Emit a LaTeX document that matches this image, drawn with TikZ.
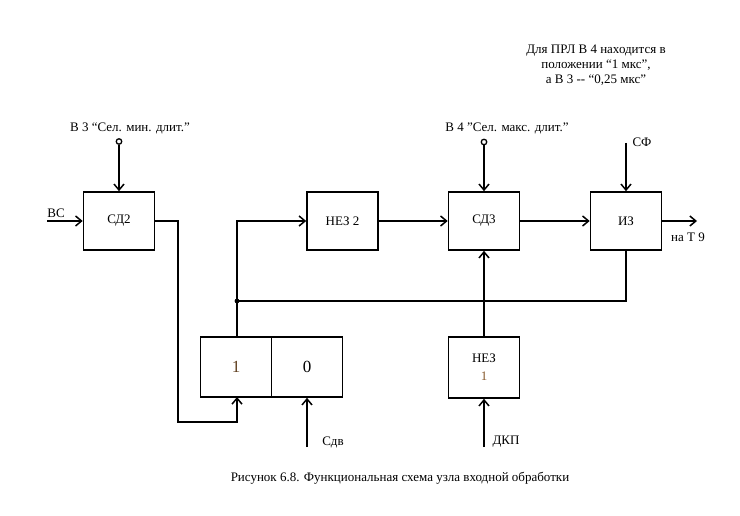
\documentclass[tikz,border=0pt]{standalone}
\usepackage{fontspec}
\setmainfont{Liberation Serif}
\usetikzlibrary{arrows.meta}
\begin{document}
\begin{tikzpicture}[x=1pt,y=-1pt,
  blk/.style={draw,line width=1.6pt,minimum width=71pt,minimum height=58pt,inner sep=0pt,font=\fontsize{13}{15}\selectfont},
  cell/.style={draw,line width=1.6pt,minimum width=71pt,minimum height=60pt,inner sep=0pt,font=\fontsize{17}{19}\selectfont},
  conn/.style={line width=1.6pt},
  arr/.style={conn,-{Straight Barb[length=6pt,width=10pt,line width=1.5pt]}},
  lbl/.style={font=\fontsize{13}{15}\selectfont,inner sep=0pt},
  term/.style={circle,draw,line width=1.3pt,minimum size=5.5pt,inner sep=0pt}]
\useasboundingbox (0,0) rectangle (740,516);
% blocks
\node[blk] (sd2) at (119,221) {СД2};
\node[blk] (nez2) at (342.5,221) {НЕЗ 2};
\node[blk] (sd3) at (484,221) {СД3};
\node[blk] (iz) at (626,221) {ИЗ};
\node[blk,minimum height=61pt,align=center] (nez1) at (484,367.5) {НЕЗ\\[3pt]\textcolor{brown!70!black}{1}};
\node[cell] (c1) at (236,367) {\textcolor{brown!50!black}{1}};
\node[cell] (c0) at (307,367) {0};
% terminals and labels
\node[term] (t3) at (119,141.5) {};
\node[lbl] (l3) at (130,128) {В 3 “Сел. мин. длит.”};
\node[term] (t4) at (484,142) {};
\node[lbl] (l4) at (507,128) {В 4 ”Сел. макс. длит.”};
\coordinate (sfin) at (626,143);
\node[lbl] (sf) at (642,142) {СФ};
\coordinate (bcin) at (47,221);
\node[lbl] (bc) at (56,213) {ВС};
\coordinate (out) at (697,221);
\node[lbl] (nat9) at (688,237) {на Т 9};
\coordinate (sdvin) at (307,447);
\node[lbl] (sdv) at (333,442) {Сдв};
\coordinate (dkpin) at (484,447);
\node[lbl] (dkp) at (506,442) {ДКП};
\node[lbl,align=center] (note) at (596,65) {Для ПРЛ В 4 находится в\\положении “1 мкс”,\\а В 3 -{}- “0,25 мкс”};
\node[lbl] (cap) at (400,478) {Рисунок 6.8. Функциональная схема узла входной обработки};
\coordinate (dot) at (237,301);
% connectors
\draw[arr] (t3) -- (sd2.north);
\draw[arr] (t4) -- (sd3.north);
\draw[arr] (sfin) -- (iz.north);
\draw[arr] (bcin) -- (sd2.west);
\draw[arr] (nez2.east) -- (sd3.west);
\draw[arr] (sd3.east) -- (iz.west);
\draw[arr] (iz.east) -- (out);
\draw[arr] (sd2.east) -- (178,221) -- (178,422) -- (237,422) -- (237,397);
\draw[arr] (237,337) -- (237,221) -- (nez2.west);
\draw[conn] (dot) -- (626,301) -- (iz.south);
\fill (dot) circle (2.4pt);
\draw[arr] (nez1.north) -- (sd3.south);
\draw[arr] (sdvin) -- (c0.south);
\draw[arr] (dkpin) -- (nez1.south);
\end{tikzpicture}
\end{document}
